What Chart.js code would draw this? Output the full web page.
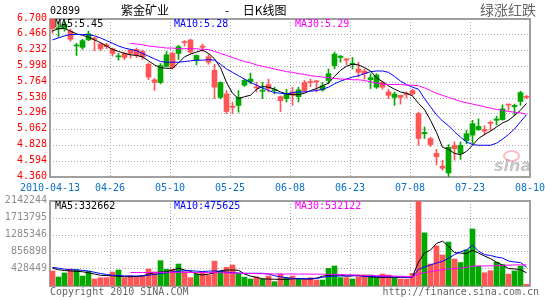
<!DOCTYPE html>
<html lang="zh-CN"><head><meta charset="utf-8"><title>紫金矿业 日K线图</title>
<script src="https://cdn.jsdelivr.net/npm/chart.js@4.4.1/dist/chart.umd.min.js"></script>
<style>
html,body{margin:0;padding:0;background:#fff;}
#wrap{position:relative;width:545px;height:300px;overflow:hidden;background:#fff;}
#wrap canvas{position:absolute;left:0;}
.t{position:absolute;white-space:nowrap;font:10px "DejaVu Sans Mono",monospace;line-height:10px;}
.cjk{font-family:"Noto Sans CJK SC",sans-serif;}
</style></head><body>
<div id="wrap">
  <canvas id="kc" width="545" height="200" style="top:0px;"></canvas>
  <canvas id="vc" width="545" height="110" style="top:190px;"></canvas>
  <div class="t" id="code" style="left:50px;top:6px;color:#000;"></div>
  <div class="t cjk" id="name" style="left:121px;top:4px;font-size:12px;line-height:12px;color:#000;"></div>
  <div class="t cjk" style="left:225px;top:4px;font-size:12px;line-height:12px;color:#000;word-spacing:11px;">- 日K线图</div>
  <div class="t cjk" style="left:480px;top:2px;font-size:14px;line-height:14px;color:#666;">绿涨红跌</div>
  <div class="t" id="pma5" style="left:55px;top:19px;color:#000;"></div>
  <div class="t" id="pma10" style="left:174px;top:19px;color:#0000ff;"></div>
  <div class="t" id="pma30" style="left:295px;top:19px;color:#ff00ff;"></div>
  <div class="t" id="vma5t" style="left:55px;top:201px;color:#000;"></div>
  <div class="t" id="vma10t" style="left:174px;top:201px;color:#0000ff;"></div>
  <div class="t" id="vma30t" style="left:295px;top:201px;color:#ff00ff;"></div>
  <div style="position:absolute;left:503px;top:150px;width:13px;height:8px;border:2px solid rgba(240,110,110,0.45);border-radius:50%;"></div>
  <div class="t" style="left:494px;top:158px;font:italic bold 16px 'DejaVu Sans',sans-serif;line-height:16px;color:rgba(150,150,150,0.55);">sina</div>
  <div class="t" style="left:50px;top:287px;color:#666;">Copyright 2010 SINA.COM</div>
  <div class="t" style="right:6px;top:287px;color:#666;">http://finance.sina.com.cn</div>
</div>
<script>
// ---------------- data ----------------
const stockCode = '02899';
const stockName = '紫金矿业';
const xLabelBars = [0, 10, 20, 30, 40, 50, 60, 70, 80];
const xLabels = ['2010-04-13', '04-26', '05-10', '05-25', '06-08', '06-23', '07-08', '07-23', '08-10'];
const priceTicks = [4.360, 4.594, 4.828, 5.062, 5.296, 5.530, 5.764, 5.998, 6.232, 6.466, 6.700];
const volTicks = [0, 428449, 856898, 1285346, 1713795, 2142244];

const open = [6.70,6.55,6.56,6.52,6.30,6.28,6.39,6.42,6.33,6.32, 6.26,6.14,6.19,6.24,6.25,6.22,6.03,5.80,5.76,6.00,
  6.19,6.19,6.36,6.39,6.09,6.30,6.14,5.94,5.54,5.59, 5.41,5.42,5.72,5.77,5.69,5.63,5.73,5.64,5.55,5.52,
  5.62,5.55,5.76,5.77,5.78,5.65,5.79,6.01,6.13,6.11, 6.03,5.96,5.93,5.80,5.69,5.76,5.62,5.54,5.57,5.59,
  5.64,5.30,5.00,4.93,4.71,4.52,4.42,4.83,4.71,4.90, 4.98,5.06,5.065,5.165,5.20,5.21,5.435,5.40,5.48,5.545];
const high = [6.70,6.66,6.66,6.55,6.34,6.40,6.52,6.43,6.35,6.34, 6.27,6.19,6.21,6.25,6.27,6.24,6.05,5.82,6.04,6.22,
  6.21,6.31,6.38,6.40,6.17,6.33,6.18,6.03,5.77,5.64, 5.47,5.64,5.81,5.90,5.76,5.76,5.81,5.69,5.56,5.66,
  5.69,5.69,5.79,5.81,5.79,5.76,5.96,6.21,6.16,6.11, 6.13,6.06,5.96,5.89,5.89,5.78,5.66,5.62,5.57,5.62,
  5.66,5.32,5.10,4.95,4.77,4.61,4.84,4.88,4.88,5.05, 5.20,5.22,5.12,5.19,5.26,5.43,5.44,5.44,5.63,5.57];
const low = [6.49,6.43,6.52,6.37,6.16,6.25,6.38,6.23,6.23,6.26, 6.15,6.09,6.10,6.12,6.13,6.10,5.80,5.64,5.74,5.99,
  5.96,6.10,6.30,6.19,6.02,6.22,6.03,5.52,5.52,5.30, 5.30,5.32,5.70,5.74,5.62,5.52,5.62,5.59,5.33,5.47,
  5.42,5.47,5.62,5.70,5.62,5.63,5.74,5.96,6.06,6.02, 5.96,5.84,5.81,5.67,5.67,5.66,5.52,5.42,5.44,5.53,
  5.57,4.83,4.93,4.81,4.54,4.46,4.36,4.61,4.62,4.85, 4.85,5.05,4.98,5.05,5.13,5.20,5.35,5.27,5.42,5.52];
const close = [6.56,6.57,6.62,6.40,6.31,6.38,6.48,6.40,6.26,6.29, 6.19,6.15,6.13,6.19,6.16,6.14,5.84,5.76,6.01,6.17,
  5.98,6.29,6.35,6.21,6.16,6.28,6.06,5.69,5.76,5.33, 5.39,5.54,5.79,5.81,5.68,5.64,5.67,5.65,5.49,5.60,
  5.57,5.65,5.64,5.76,5.77,5.71,5.89,6.18,6.15,6.09, 6.04,5.91,5.89,5.83,5.87,5.69,5.57,5.59,5.54,5.58,
  5.59,4.93,5.02,4.84,4.66,4.49,4.80,4.78,4.83,5.00, 5.15,5.11,5.04,5.155,5.22,5.37,5.425,5.42,5.61,5.54];

const ma5 = [6.52,6.56,6.56,6.52,6.48,6.46,6.43,6.39,6.35,6.30, 6.25,6.22,6.19,6.17,6.16,6.14,6.08,6.02,5.98,5.97,
  5.97,6.05,6.14,6.18,6.21,6.24,6.19,6.11,5.98,5.76, 5.60,5.52,5.55,5.57,5.66,5.70,5.69,5.66,5.62,5.59,
  5.58,5.58,5.60,5.64,5.67,5.71,5.75,5.85,5.94,6.00, 6.03,6.02,5.98,5.93,5.83,5.77,5.71,5.66,5.62,5.60,
  5.56,5.45,5.36,5.20,5.02,4.80,4.77,4.71,4.69,4.74, 4.83,4.93,4.99,5.04,5.10,5.16,5.20,5.27,5.35,5.45];
const ma10 = [6.39,6.42,6.45,6.47,6.47,6.47,6.47,6.45,6.42,6.38, 6.34,6.30,6.27,6.25,6.23,6.19,6.15,6.11,6.07,6.06,
  6.06,6.06,6.07,6.08,6.09,6.09,6.10,6.09,6.03,5.96, 5.91,5.86,5.81,5.76,5.72,5.68,5.64,5.61,5.60,5.59,
  5.61,5.62,5.62,5.63,5.64,5.66,5.69,5.74,5.78,5.81, 5.84,5.86,5.89,5.92,5.93,5.93,5.91,5.85,5.78,5.73,
  5.69,5.66,5.52,5.40,5.28,5.19,5.12,5.03,4.95,4.88, 4.84,4.83,4.83,4.83,4.86,4.92,4.99,5.07,5.18,5.28];
const ma30 = [null,null,null,null,null,null,null,null,null,null, null,null,null,6.34,6.33,6.32,6.30,6.29,6.28,6.27,
  6.27,6.26,6.26,6.26,6.26,6.25,6.25,6.22,6.19,6.16, 6.13,6.10,6.07,6.05,6.02,6.00,5.98,5.96,5.94,5.92,
  5.91,5.89,5.88,5.86,5.85,5.84,5.83,5.82,5.81,5.81, 5.80,5.80,5.79,5.77,5.75,5.74,5.73,5.73,5.73,5.72,
  5.72,5.71,5.68,5.64,5.60,5.57,5.54,5.51,5.48,5.46, 5.44,5.42,5.40,5.38,5.36,5.35,5.33,5.32,5.31,5.29];

const volume = [378000,227000,328000,428000,411000,252000,370000,176000,210000,210000,
  353000,403000,210000,260000,235000,260000,428000,353000,638000,420000,
  420000,554000,361000,210000,302000,319000,277000,626000,370000,470000,
  529000,310000,222000,176000,230000,176000,252000,109000,302000,210000,
  252000,176000,176000,210000,151000,151000,445000,504000,210000,210000,
  176000,235000,277000,277000,210000,302000,277000,210000,176000,176000,
  319000,2142244,1340000,555000,1012000,780000,1108000,680000,592000,911000,
  1437000,500000,332000,386000,600000,540000,300000,380000,500000,45000];
const vma5 = [446000,410000,390000,380000,370000,360000,330000,302000,270000,262000,
  258000,245000,235000,235000,240000,252000,302000,336000,350000,361000,
  400000,446000,403000,370000,302000,277000,300000,336000,386000,403000,
  403000,395000,302000,250000,218000,180000,176000,170000,168000,168000,
  180000,190000,180000,176000,200000,245000,270000,280000,277000,245000,
  260000,270000,245000,230000,218000,218000,218000,218000,218000,225000,
  235000,605000,830000,906000,1074000,1130000,1000000,840000,830000,820000,
  900000,830000,755000,690000,600000,530000,440000,430000,410000,332662];
const vma10 = [470000,450000,425000,410000,405000,395000,378000,345000,315000,290000,
  272000,262000,255000,252000,252000,255000,270000,290000,315000,336000,
  355000,370000,386000,386000,375000,365000,375000,380000,365000,350000,
  336000,325000,320000,320000,320000,320000,300000,260000,230000,210000,
  190000,180000,180000,180000,190000,220000,240000,250000,252000,255000,
  258000,260000,245000,240000,235000,230000,230000,228000,225000,222000,
  222000,420000,480000,530000,580000,620000,700000,790000,860000,910000,
  1030000,880000,790000,770000,730000,705000,630000,605000,590000,475625];
const vma30 = [null,null,null,null,null,null,null,null,null,null,
  null,null,null,340000,340000,340000,340000,342000,344000,344000,
  344000,344000,343000,342000,341000,340000,338000,336000,334000,330000,
  326000,322000,318000,315000,312000,309000,306000,304000,302000,302000,
  302000,301000,300000,300000,298000,296000,294000,292000,290000,285000,
  280000,275000,270000,265000,262000,258000,255000,250000,245000,240000,
  238000,300000,340000,360000,390000,410000,430000,440000,450000,470000,
  500000,505000,505000,508000,512000,518000,525000,530000,532000,532122];

// ---------------- texts ----------------
const N = close.length;
document.getElementById('code').textContent = stockCode;
document.getElementById('name').textContent = stockName;
document.getElementById('pma5').textContent = 'MA5:' + ma5[N-1].toFixed(2);
document.getElementById('pma10').textContent = 'MA10:' + ma10[N-1].toFixed(2);
document.getElementById('pma30').textContent = 'MA30:' + ma30[N-1].toFixed(2);
document.getElementById('vma5t').textContent = 'MA5:' + vma5[N-1];
document.getElementById('vma10t').textContent = 'MA10:' + vma10[N-1];
document.getElementById('vma30t').textContent = 'MA30:' + vma30[N-1];

// ---------------- chart setup ----------------
Chart.defaults.font.family = '"DejaVu Sans Mono", monospace';
Chart.defaults.font.size = 10;
const RED = '#ff5555', GREEN = '#00a800', GRID = '#a8a8a8';
const rise = i => close[i] > open[i];
const colorOf = c => rise(c.dataIndex) ? GREEN : RED;
const pts = arr => arr.map((v, i) => ({x: i, y: v}));
const X_MIN = -2.5 / 6, X_MAX = N - 2.5 / 6;

const boxPlugin = {
  id: 'box',
  beforeDatasetsDraw(chart) {
    const {ctx, chartArea: a} = chart;
    ctx.save();
    ctx.strokeStyle = '#a0a0a0';
    ctx.lineWidth = 2;
    ctx.strokeRect(a.left, a.top, a.right - a.left, a.bottom - a.top);
    ctx.restore();
  }
};

function xScale(showLabels) {
  return {
    type: 'linear', min: X_MIN, max: X_MAX, offset: false,
    afterBuildTicks: s => { s.ticks = xLabelBars.map(b => ({value: b + X_MIN})); },
    afterFit: s => { s.paddingLeft = 0; s.paddingRight = 0; s.height = showLabels ? 20 : 0; },
    grid: {color: GRID, lineWidth: 1, drawTicks: false, offset: false},
    border: {display: false, dash: [1, 2]},
    ticks: {display: showLabels, autoSkip: false, maxRotation: 0, minRotation: 0, padding: 5,
      color: '#0a70c8', callback: (v, i) => xLabels[i]}
  };
}
function yScale(ticks, color, fmt) {
  return {
    type: 'linear', position: 'left', min: ticks[0], max: ticks[ticks.length - 1],
    afterBuildTicks: s => { s.ticks = ticks.map(v => ({value: v})); },
    afterFit: s => { s.width = 50; },
    grid: {color: GRID, lineWidth: 1, drawTicks: false},
    border: {display: false, dash: [1, 2]},
    ticks: {color: color, padding: 3, autoSkip: false, labelOffset: -1, callback: fmt}
  };
}
const lineDs = (arr, color) => ({
  type: 'line', data: pts(arr), borderColor: color, borderWidth: 1, pointRadius: 0,
  tension: 0, spanGaps: false, order: 0, fill: false
});
const common = {
  responsive: false, devicePixelRatio: 1, animation: false,
  plugins: {legend: {display: false}, tooltip: {enabled: false}, title: {display: false}}
};

new Chart(document.getElementById('kc'), {
  type: 'bar',
  data: {
    datasets: [
      {type: 'bar', data: open.map((o, i) => ({x: i, y: [low[i], high[i]]})), backgroundColor: colorOf,
        barThickness: 1, grouped: false, order: 3, borderWidth: 0},
      {type: 'bar', data: open.map((o, i) => ({x: i, y: [o, close[i]]})), backgroundColor: colorOf,
        barThickness: 5, grouped: false, minBarLength: 1, order: 2, borderWidth: 0},
      lineDs(ma30, '#ff00ff'),
      lineDs(ma10, '#0000ff'),
      lineDs(ma5, '#000000')
    ]
  },
  options: Object.assign({}, common, {
    layout: {padding: {left: 0, right: 15, top: 19, bottom: 3}},
    scales: {
      x: xScale(true),
      y: yScale(priceTicks, '#ff0000', v => v.toFixed(3))
    }
  }),
  plugins: [boxPlugin]
});

new Chart(document.getElementById('vc'), {
  type: 'bar',
  data: {
    datasets: [
      {type: 'bar', data: pts(volume), backgroundColor: colorOf, barThickness: 5, grouped: false,
        order: 2, borderWidth: 0},
      lineDs(vma30, '#ff00ff'),
      lineDs(vma10, '#0000ff'),
      lineDs(vma5, '#000000')
    ]
  },
  options: Object.assign({}, common, {
    layout: {padding: {left: 0, right: 15, top: 11, bottom: 14}},
    scales: {
      x: xScale(false),
      y: yScale(volTicks, '#8c8c8c', v => v === 0 ? '' : String(Math.round(v)))
    }
  }),
  plugins: [boxPlugin]
});
</script>
</body></html>
